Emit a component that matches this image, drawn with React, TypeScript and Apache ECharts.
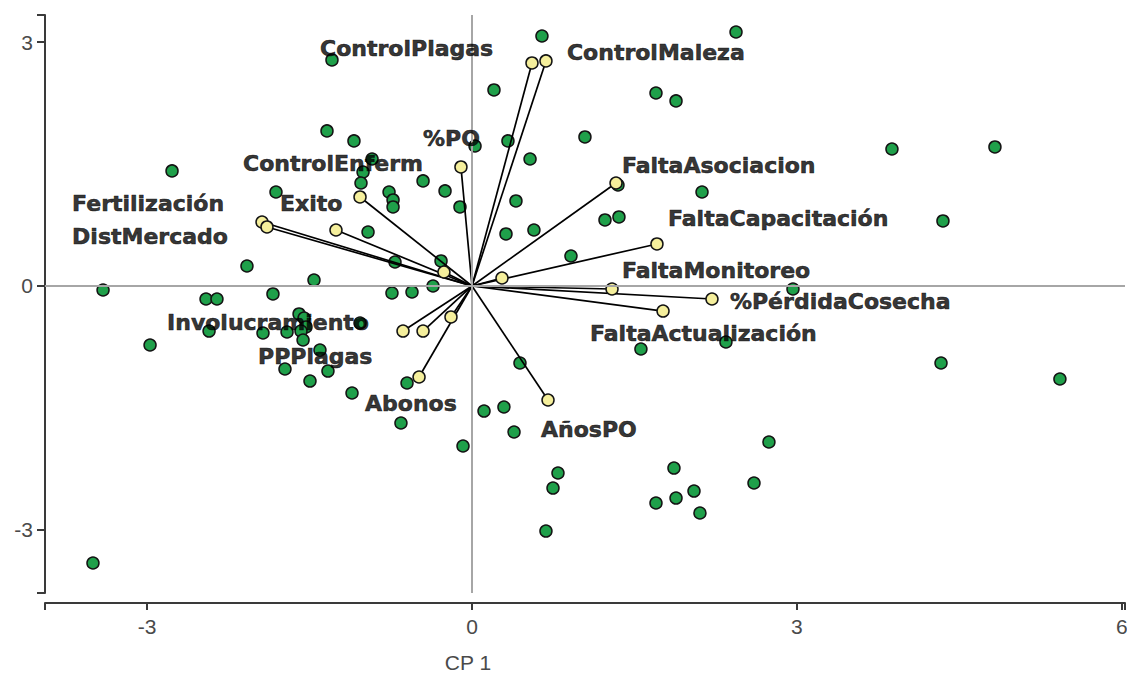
import React, { useEffect, useRef } from "react";
import * as echarts from "echarts";

// Observations (CP1, CP2)
const obsX: number[] = [
  0.646, 2.438, -1.293, 0.203, 1.699, 1.884, 1.043, 0.028, 0.332, -1.339,
  -1.09, -0.923, -2.77, 0.536, -1.006, -1.025, -1.81, -0.766, -0.729, -0.729,
  -0.452, -0.249, -0.111, 0.406, -0.96, 0.314, 0.572, -2.078, -1.459, -0.711,
  -0.286, -3.407, -2.456, -2.355, -1.838, -0.739, -0.554, -0.36, -1.597, -1.551,
  -1.533, -1.579, -1.56, -1.708, -1.93, -2.428, -1.034, -2.973, -1.404, -1.727,
  -1.33, -1.496, -1.108, -0.6, -0.656, -0.083, 0.443, 0.111, 0.295, 0.388,
  0.794, 0.748, 0.683, 1.56, 2.345, 1.865, 1.884, 2.05, 1.699, 2.105,
  2.604, 2.742, 2.964, 4.331, 5.429, 3.878, 4.829, 4.349, 1.228, 1.357,
  0.914, 2.124, 1.348, -3.5,
];
const obsY: number[] = [
  3.075, 3.124, 2.78, 2.411, 2.374, 2.276, 1.833, 1.722, 1.784, 1.907,
  1.784, 1.562, 1.415, 1.562, 1.402, 1.267, 1.156, 1.156, 1.058, 0.972,
  1.292, 1.169, 0.972, 1.046, 0.664, 0.64, 0.689, 0.246, 0.074, 0.295,
  0.308, -0.049, -0.16, -0.16, -0.098, -0.086, -0.074, 0.0, -0.344, -0.394,
  -0.504, -0.554, -0.664, -0.566, -0.578, -0.554, -0.455, -0.726, -0.787, -1.021,
  -1.046, -1.169, -1.316, -1.193, -1.685, -1.968, -0.947, -1.538, -1.488, -1.796,
  -2.3, -2.485, -3.014, -0.775, -0.689, -2.239, -2.608, -2.522, -2.669, -2.792,
  -2.423, -1.919, -0.037, -0.947, -1.144, 1.685, 1.71, 0.8, 0.812, 0.849,
  0.369, 1.156, 1.242, -3.407,
];

// Variable vectors (loadings)
const varNames: string[] = [
  "ControlPlagas", "ControlMaleza", "%PO", "ControlEnferm", "Exito",
  "Fertilización", "DistMercado", "v8", "v9", "FaltaAsociacion",
  "FaltaCapacitación", "FaltaMonitoreo", "%PérdidaCosecha", "FaltaActualización",
  "Involucramiento", "PPPlagas", "v17", "Abonos", "AñosPO",
];
const varX: number[] = [
  0.554, 0.683, -0.102, -1.034, -1.256, -1.939, -1.893, -0.259, 0.277, 1.33,
  1.708, 1.293, 2.216, 1.764, -0.637, -0.452, -0.194, -0.489, 0.702,
];
const varY: number[] = [
  2.743, 2.768, 1.464, 1.095, 0.689, 0.787, 0.726, 0.172, 0.098, 1.267,
  0.517, -0.037, -0.16, -0.308, -0.554, -0.554, -0.381, -1.119, -1.402,
];

// Variable label anchors (left edge, vertical middle) in data units
const labelTexts: string[] = [
  "ControlPlagas", "ControlMaleza", "%PO", "ControlEnferm", "Exito",
  "Fertilización", "DistMercado", "FaltaAsociacion", "FaltaCapacitación",
  "FaltaMonitoreo", "%PérdidaCosecha", "FaltaActualización", "Involucramiento",
  "PPPlagas", "Abonos", "AñosPO",
];
const labelX: number[] = [
  -1.403, 0.877, -0.452, -2.114, -1.773, -3.693, -3.693, 1.385, 1.81,
  1.385, 2.382, 1.09, -2.816, -1.976, -0.988, 0.637,
];
const labelY: number[] = [
  2.915, 2.866, 1.82, 1.501, 1.009, 1.009, 0.603, 1.488, 0.836,
  0.185, -0.185, -0.59, -0.455, -0.873, -1.451, -1.771,
];

const xTicks: number[] = [-3, 0, 3, 6];
const yTicks: number[] = [-3, 0, 3];
const X_MIN = -3.943;
const X_MAX = 6.03;
const Y_MIN = -3.776;
const Y_MAX = 3.333;
const xName = "CP 1";

export default function App() {
  const ref = useRef<HTMLDivElement>(null);
  useEffect(() => {
    if (!ref.current) return;
    const chart = echarts.init(ref.current, null, { renderer: "svg" });
    const axisColor = "#3a3a3a";
    const tickFont = {
      fontSize: 21,
      color: "#4a4a4a",
      fontFamily: "Liberation Sans, Arial, sans-serif",
    };
    chart.setOption({
      animation: false,
      backgroundColor: "#ffffff",
      grid: {
        left: 45,
        right: 2,
        top: 15,
        bottom: 82,
        containLabel: false,
        outerBoundsMode: "none",
      },
      xAxis: {
        type: "value",
        min: X_MIN,
        max: X_MAX,
        offset: 10,
        splitLine: { show: false },
        axisLine: { show: true, onZero: false, lineStyle: { color: axisColor, width: 2 } },
        axisTick: {
          show: true,
          length: 7,
          customValues: [X_MIN, ...xTicks, X_MAX],
          lineStyle: { color: axisColor, width: 2 },
        },
        axisLabel: { customValues: xTicks, margin: 13, ...tickFont },
        name: xName,
        nameLocation: "middle",
        nameGap: 49,
        nameTextStyle: { ...tickFont, padding: [0, 234, 0, 0] },
      },
      yAxis: {
        type: "value",
        min: Y_MIN,
        max: Y_MAX,
        splitLine: { show: false },
        axisLine: { show: true, onZero: false, lineStyle: { color: axisColor, width: 2 } },
        axisTick: {
          show: true,
          length: 8,
          customValues: [Y_MIN, ...yTicks, Y_MAX],
          lineStyle: { color: axisColor, width: 2 },
        },
        axisLabel: { customValues: yTicks, margin: 12, ...tickFont },
      },
      series: [
        {
          type: "scatter",
          data: [],
          z: 1,
          markLine: {
            silent: true,
            symbol: ["none", "none"],
            label: { show: false },
            lineStyle: { color: "#a6a6a6", width: 2, type: "solid" },
            data: [{ xAxis: 0 }, { yAxis: 0 }],
          },
        },
        {
          type: "scatter",
          z: 2,
          symbolSize: 12,
          itemStyle: { color: "#1fa04a", borderColor: "#141414", borderWidth: 1.5, opacity: 1 },
          data: obsX.map((x, i) => [x, obsY[i]]),
        },
        {
          type: "lines",
          coordinateSystem: "cartesian2d",
          z: 3,
          lineStyle: { color: "#000000", width: 1.7, opacity: 1 },
          data: varX.map((x, i) => ({ name: varNames[i], coords: [[0, 0], [x, varY[i]]] })),
        },
        {
          type: "scatter",
          z: 4,
          symbolSize: 12,
          itemStyle: { color: "#f5ef9c", borderColor: "#141414", borderWidth: 1.5, opacity: 1 },
          data: varX.map((x, i) => ({ name: varNames[i], value: [x, varY[i]] })),
        },
        {
          type: "scatter",
          z: 5,
          symbolSize: 0,
          silent: true,
          label: {
            show: true,
            position: "right",
            distance: 0,
            formatter: "{b}",
            fontSize: 22,
            fontWeight: "bold",
            fontFamily: "DejaVu Sans, sans-serif",
            color: "#000000",
            textBorderColor: "#000000",
            textBorderWidth: 0.6,
          },
          data: labelX.map((x, i) => ({ name: labelTexts[i], value: [x, labelY[i]] })),
        },
      ],
    });
    return () => chart.dispose();
  }, []);
  return (
    <div
      ref={ref}
      style={{ position: "absolute", left: 0, top: 0, width: 1127, height: 675, background: "#fff" }}
    />
  );
}
